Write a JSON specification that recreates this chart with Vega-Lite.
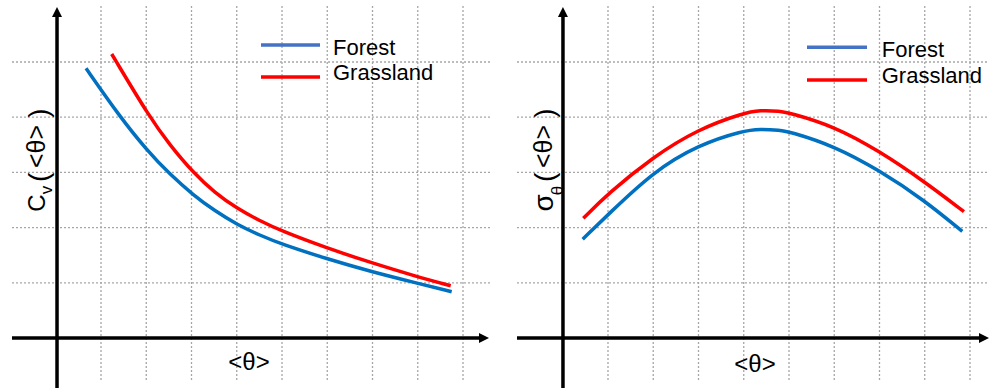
{
  "$schema": "https://vega.github.io/schema/vega-lite/v6.json",
  "background": "white",
  "padding": 0,
  "spacing": 0,
  "bounds": "flush",
  "config": {"view": {"stroke": null}, "text": {"font": "Liberation Sans", "color": "#000000"}},
  "resolve": {"scale": {"x": "independent", "y": "independent"}},
  "datasets": {
    "curves": [
      {"panel": "cv", "series": "Forest", "x": 0.669, "y": 4.886},
      {"panel": "cv", "series": "Forest", "x": 1.420, "y": 4.004},
      {"panel": "cv", "series": "Forest", "x": 2.010, "y": 3.406},
      {"panel": "cv", "series": "Forest", "x": 2.525, "y": 2.962},
      {"panel": "cv", "series": "Forest", "x": 3.040, "y": 2.590},
      {"panel": "cv", "series": "Forest", "x": 3.519, "y": 2.300},
      {"panel": "cv", "series": "Forest", "x": 3.999, "y": 2.060},
      {"panel": "cv", "series": "Forest", "x": 4.514, "y": 1.858},
      {"panel": "cv", "series": "Forest", "x": 4.993, "y": 1.700},
      {"panel": "cv", "series": "Forest", "x": 5.988, "y": 1.435},
      {"panel": "cv", "series": "Forest", "x": 6.982, "y": 1.200},
      {"panel": "cv", "series": "Forest", "x": 7.977, "y": 0.995},
      {"panel": "cv", "series": "Forest", "x": 8.750, "y": 0.838},
      {"panel": "cv", "series": "Grassland", "x": 1.236, "y": 5.145},
      {"panel": "cv", "series": "Grassland", "x": 2.068, "y": 4.005},
      {"panel": "cv", "series": "Grassland", "x": 2.525, "y": 3.493},
      {"panel": "cv", "series": "Grassland", "x": 3.040, "y": 2.993},
      {"panel": "cv", "series": "Grassland", "x": 3.519, "y": 2.629},
      {"panel": "cv", "series": "Grassland", "x": 3.999, "y": 2.351},
      {"panel": "cv", "series": "Grassland", "x": 4.514, "y": 2.119},
      {"panel": "cv", "series": "Grassland", "x": 4.993, "y": 1.937},
      {"panel": "cv", "series": "Grassland", "x": 5.988, "y": 1.629},
      {"panel": "cv", "series": "Grassland", "x": 6.982, "y": 1.361},
      {"panel": "cv", "series": "Grassland", "x": 7.977, "y": 1.112},
      {"panel": "cv", "series": "Grassland", "x": 8.728, "y": 0.947},
      {"panel": "sigma", "series": "Forest", "x": 0.441, "y": 1.790},
      {"panel": "sigma", "series": "Forest", "x": 1.007, "y": 2.240},
      {"panel": "sigma", "series": "Forest", "x": 2.001, "y": 3.013},
      {"panel": "sigma", "series": "Forest", "x": 2.996, "y": 3.500},
      {"panel": "sigma", "series": "Forest", "x": 3.990, "y": 3.757},
      {"panel": "sigma", "series": "Forest", "x": 4.359, "y": 3.786},
      {"panel": "sigma", "series": "Forest", "x": 4.801, "y": 3.765},
      {"panel": "sigma", "series": "Forest", "x": 5.007, "y": 3.738},
      {"panel": "sigma", "series": "Forest", "x": 5.994, "y": 3.480},
      {"panel": "sigma", "series": "Forest", "x": 6.989, "y": 3.040},
      {"panel": "sigma", "series": "Forest", "x": 7.983, "y": 2.500},
      {"panel": "sigma", "series": "Forest", "x": 8.830, "y": 1.930},
      {"panel": "sigma", "series": "Grassland", "x": 0.454, "y": 2.168},
      {"panel": "sigma", "series": "Grassland", "x": 1.007, "y": 2.621},
      {"panel": "sigma", "series": "Grassland", "x": 2.001, "y": 3.284},
      {"panel": "sigma", "series": "Grassland", "x": 2.996, "y": 3.785},
      {"panel": "sigma", "series": "Grassland", "x": 3.990, "y": 4.075},
      {"panel": "sigma", "series": "Grassland", "x": 4.359, "y": 4.128},
      {"panel": "sigma", "series": "Grassland", "x": 4.801, "y": 4.110},
      {"panel": "sigma", "series": "Grassland", "x": 5.007, "y": 4.080},
      {"panel": "sigma", "series": "Grassland", "x": 5.994, "y": 3.838},
      {"panel": "sigma", "series": "Grassland", "x": 6.989, "y": 3.390},
      {"panel": "sigma", "series": "Grassland", "x": 7.983, "y": 2.840},
      {"panel": "sigma", "series": "Grassland", "x": 8.867, "y": 2.288}
    ],
    "xgrid": [{"g": 1}, {"g": 2}, {"g": 3}, {"g": 4}, {"g": 5}, {"g": 6}, {"g": 7}, {"g": 8}, {"g": 9}],
    "ygrid": [{"g": 1}, {"g": 2}, {"g": 3}, {"g": 4}, {"g": 5}]
  },
  "hconcat": [
    {
      "width": 495,
      "height": 388,
      "data": {"values": [{}]},
      "layer": [
        {
          "data": {"name": "xgrid"},
          "mark": {"type": "rule", "color": "#a6a6a6", "strokeWidth": 1.3, "strokeDash": [2, 2]},
          "encoding": {
            "x": {"field": "g", "type": "quantitative", "scale": {"domain": [-1.232, 9.707], "nice": false, "zero": false}, "axis": null},
            "y": {"datum": -0.761, "type": "quantitative", "scale": {"domain": [-0.906, 6.123], "nice": false, "zero": false}, "axis": null},
            "y2": {"datum": 6.014}
          }
        },
        {
          "data": {"name": "ygrid"},
          "mark": {"type": "rule", "color": "#a6a6a6", "strokeWidth": 1.3, "strokeDash": [2, 2]},
          "encoding": {
            "y": {"field": "g", "type": "quantitative", "axis": null},
            "x": {"datum": -0.967, "axis": null},
            "x2": {"datum": 9.597}
          }
        },
        {
          "mark": {"type": "rule", "color": "#000000", "strokeWidth": 3.5},
          "encoding": {"x": {"datum": 0.028, "axis": null}, "y": {"datum": -0.906, "axis": null}, "y2": {"datum": 5.906}}
        },
        {
          "mark": {"type": "rule", "color": "#000000", "strokeWidth": 3.5},
          "encoding": {"y": {"datum": 0, "axis": null}, "x": {"datum": -0.967, "axis": null}, "x2": {"datum": 9.464}}
        },
        {
          "mark": {"type": "point", "shape": "M0,-1L1,1L-1,1Z", "size": 100, "filled": true, "color": "#000000", "opacity": 1},
          "encoding": {"x": {"datum": 0.028, "axis": null}, "y": {"datum": 5.906, "axis": null}}
        },
        {
          "mark": {"type": "point", "shape": "M1,0L-1,-1L-1,1Z", "size": 100, "filled": true, "color": "#000000", "opacity": 1},
          "encoding": {"x": {"datum": 9.464, "axis": null}, "y": {"datum": 0, "axis": null}}
        },
        {
          "data": {"name": "curves"},
          "transform": [{"filter": "datum.panel === 'cv'"}],
          "mark": {"type": "line", "strokeWidth": 3.5, "interpolate": "basis"},
          "encoding": {
            "x": {"field": "x", "type": "quantitative", "axis": null},
            "y": {"field": "y", "type": "quantitative", "axis": null},
            "color": {"field": "series", "type": "nominal", "scale": {"domain": ["Forest", "Grassland"], "range": ["#0070C0", "#FF0000"]}, "legend": null}
          }
        },
        {
          "mark": {"type": "rule", "color": "#4472C4", "strokeWidth": 3.5},
          "encoding": {"x": {"datum": 4.536, "axis": null}, "x2": {"datum": 5.840}, "y": {"datum": 5.308, "axis": null}}
        },
        {
          "mark": {"type": "rule", "color": "#FF0000", "strokeWidth": 3.5},
          "encoding": {"x": {"datum": 4.536, "axis": null}, "x2": {"datum": 5.840}, "y": {"datum": 4.730, "axis": null}}
        },
        {
          "mark": {"type": "text", "text": "Forest", "fontSize": 22, "align": "left", "baseline": "alphabetic"},
          "encoding": {"x": {"datum": 6.127, "axis": null}, "y": {"datum": 5.127, "axis": null}}
        },
        {
          "mark": {"type": "text", "text": "Grassland", "fontSize": 22, "align": "left", "baseline": "alphabetic"},
          "encoding": {"x": {"datum": 6.127, "axis": null}, "y": {"datum": 4.665, "axis": null}}
        },
        {
          "mark": {"type": "text", "text": "<θ>", "fontSize": 24, "align": "center", "baseline": "middle"},
          "encoding": {"x": {"datum": 4.271, "axis": null}, "y": {"datum": -0.453, "axis": null}}
        },
        {
          "mark": {"type": "text", "text": "C", "fontSize": 24, "angle": 270, "align": "center", "baseline": "alphabetic"},
          "encoding": {"x": {"datum": -0.238, "axis": null}, "y": {"datum": 2.446, "axis": null}}
        },
        {
          "mark": {"type": "text", "text": "v", "fontSize": 17, "angle": 270, "align": "center", "baseline": "alphabetic"},
          "encoding": {"x": {"datum": -0.076, "axis": null}, "y": {"datum": 2.681, "axis": null}}
        },
        {
          "mark": {"type": "text", "text": "(", "fontSize": 28, "angle": 270, "align": "center", "baseline": "alphabetic"},
          "encoding": {"x": {"datum": -0.171, "axis": null}, "y": {"datum": 2.908, "axis": null}}
        },
        {
          "mark": {"type": "text", "text": "<θ>", "fontSize": 25, "angle": 270, "align": "center", "baseline": "alphabetic"},
          "encoding": {"x": {"datum": -0.238, "axis": null}, "y": {"datum": 3.469, "axis": null}}
        },
        {
          "mark": {"type": "text", "text": ")", "fontSize": 28, "angle": 270, "align": "center", "baseline": "alphabetic"},
          "encoding": {"x": {"datum": -0.171, "axis": null}, "y": {"datum": 4.076, "axis": null}}
        }
      ]
    },
    {
      "width": 494,
      "height": 388,
      "data": {"values": [{}]},
      "layer": [
        {
          "data": {"name": "xgrid"},
          "mark": {"type": "rule", "color": "#a6a6a6", "strokeWidth": 1.3, "strokeDash": [2, 2]},
          "encoding": {
            "x": {"field": "g", "type": "quantitative", "scale": {"domain": [-1.497, 9.420], "nice": false, "zero": false}, "axis": null},
            "y": {"datum": -0.761, "type": "quantitative", "scale": {"domain": [-0.906, 6.123], "nice": false, "zero": false}, "axis": null},
            "y2": {"datum": 6.014}
          }
        },
        {
          "data": {"name": "ygrid"},
          "mark": {"type": "rule", "color": "#a6a6a6", "strokeWidth": 1.3, "strokeDash": [2, 2]},
          "encoding": {
            "y": {"field": "g", "type": "quantitative", "axis": null},
            "x": {"datum": -1.011, "axis": null},
            "x2": {"datum": 9.420}
          }
        },
        {
          "mark": {"type": "rule", "color": "#000000", "strokeWidth": 3.5},
          "encoding": {"x": {"datum": 0.005, "axis": null}, "y": {"datum": -0.906, "axis": null}, "y2": {"datum": 5.906}}
        },
        {
          "mark": {"type": "rule", "color": "#000000", "strokeWidth": 3.5},
          "encoding": {"y": {"datum": 0, "axis": null}, "x": {"datum": -1.011, "axis": null}, "x2": {"datum": 9.309}}
        },
        {
          "mark": {"type": "point", "shape": "M0,-1L1,1L-1,1Z", "size": 100, "filled": true, "color": "#000000", "opacity": 1},
          "encoding": {"x": {"datum": 0.005, "axis": null}, "y": {"datum": 5.906, "axis": null}}
        },
        {
          "mark": {"type": "point", "shape": "M1,0L-1,-1L-1,1Z", "size": 100, "filled": true, "color": "#000000", "opacity": 1},
          "encoding": {"x": {"datum": 9.309, "axis": null}, "y": {"datum": 0, "axis": null}}
        },
        {
          "data": {"name": "curves"},
          "transform": [{"filter": "datum.panel === 'sigma'"}],
          "mark": {"type": "line", "strokeWidth": 3.5, "interpolate": "basis"},
          "encoding": {
            "x": {"field": "x", "type": "quantitative", "axis": null},
            "y": {"field": "y", "type": "quantitative", "axis": null},
            "color": {"field": "series", "type": "nominal", "scale": {"domain": ["Forest", "Grassland"], "range": ["#0070C0", "#FF0000"]}, "legend": null}
          }
        },
        {
          "mark": {"type": "rule", "color": "#4472C4", "strokeWidth": 3.5},
          "encoding": {"x": {"datum": 5.398, "axis": null}, "x2": {"datum": 6.724}, "y": {"datum": 5.266, "axis": null}}
        },
        {
          "mark": {"type": "rule", "color": "#FF0000", "strokeWidth": 3.5},
          "encoding": {"x": {"datum": 5.398, "axis": null}, "x2": {"datum": 6.724}, "y": {"datum": 4.674, "axis": null}}
        },
        {
          "mark": {"type": "text", "text": "Forest", "fontSize": 22, "align": "left", "baseline": "alphabetic"},
          "encoding": {"x": {"datum": 7.049, "axis": null}, "y": {"datum": 5.096, "axis": null}}
        },
        {
          "mark": {"type": "text", "text": "Grassland", "fontSize": 22, "align": "left", "baseline": "alphabetic"},
          "encoding": {"x": {"datum": 7.049, "axis": null}, "y": {"datum": 4.620, "axis": null}}
        },
        {
          "mark": {"type": "text", "text": "<θ>", "fontSize": 24, "align": "center", "baseline": "middle"},
          "encoding": {"x": {"datum": 4.249, "axis": null}, "y": {"datum": -0.489, "axis": null}}
        },
        {
          "mark": {"type": "text", "text": "σ", "fontSize": 28, "angle": 270, "align": "center", "baseline": "alphabetic"},
          "encoding": {"x": {"datum": -0.215, "axis": null}, "y": {"datum": 2.446, "axis": null}}
        },
        {
          "mark": {"type": "text", "text": "θ", "fontSize": 17, "angle": 270, "align": "center", "baseline": "alphabetic"},
          "encoding": {"x": {"datum": 0.005, "axis": null}, "y": {"datum": 2.672, "axis": null}}
        },
        {
          "mark": {"type": "text", "text": "(", "fontSize": 28, "angle": 270, "align": "center", "baseline": "alphabetic"},
          "encoding": {"x": {"datum": -0.193, "axis": null}, "y": {"datum": 2.908, "axis": null}}
        },
        {
          "mark": {"type": "text", "text": "<θ>", "fontSize": 25, "angle": 270, "align": "center", "baseline": "alphabetic"},
          "encoding": {"x": {"datum": -0.235, "axis": null}, "y": {"datum": 3.469, "axis": null}}
        },
        {
          "mark": {"type": "text", "text": ")", "fontSize": 28, "angle": 270, "align": "center", "baseline": "alphabetic"},
          "encoding": {"x": {"datum": -0.193, "axis": null}, "y": {"datum": 4.076, "axis": null}}
        }
      ]
    }
  ]
}
